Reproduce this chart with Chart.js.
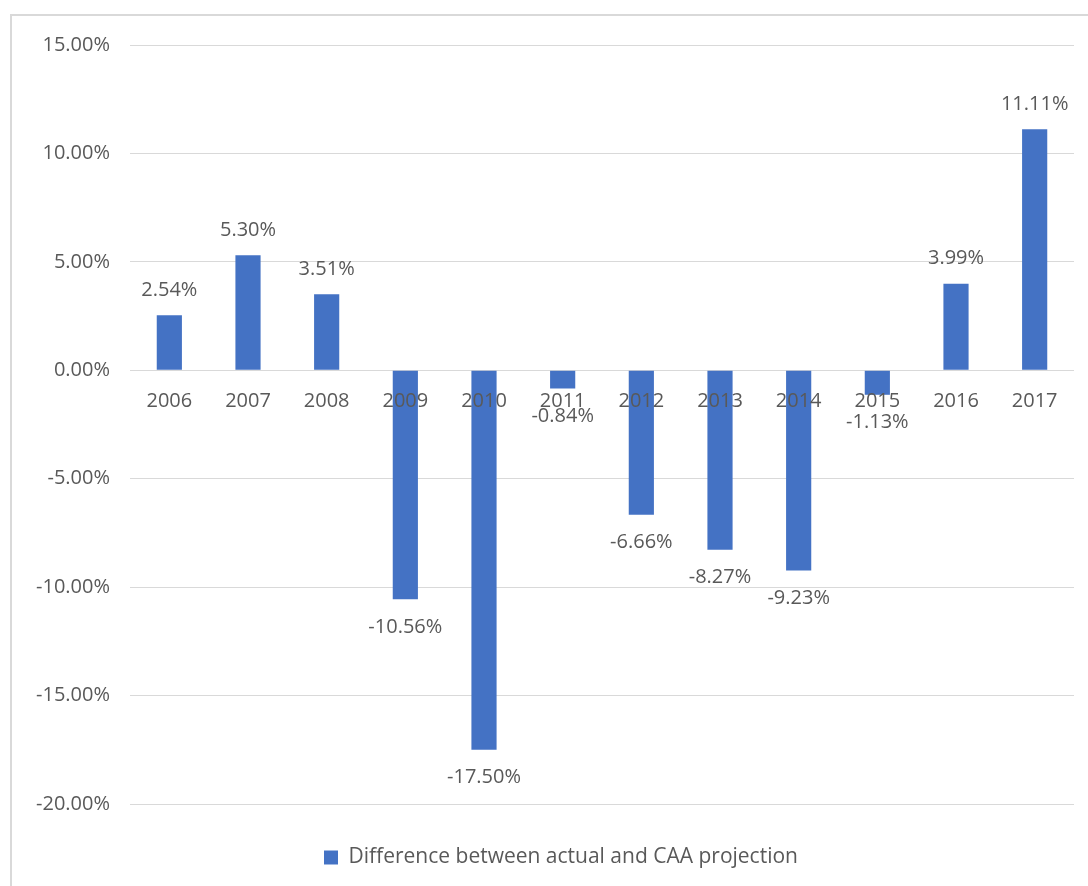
<!DOCTYPE html>
<html lang="en">
<head>
  <meta charset="UTF-8">
  <title>Difference between actual and CAA projection</title>
  <script src="https://cdn.jsdelivr.net/npm/chart.js"></script>
  <style>
    body { margin: 0; background: #fff; }
    .frame {
      position: absolute; left: 10px; top: 14px; width: 1090px; height: 880px;
      border-left: 2px solid #d9d9d9; border-top: 2px solid #d9d9d9;
    }
    .graph { position: absolute; left: 0; top: 0; width: 1088px; height: 886px; }
  </style>
</head>
<body>
  <div class="frame"></div>
  <div class="graph">
    <canvas id="barChart" width="1088" height="886"></canvas>
  </div>

<script>
  const anos = ["2006", "2007", "2008", "2009", "2010", "2011", "2012", "2013", "2014", "2015", "2016", "2017"];
  const diferenca = [2.54, 5.30, 3.51, -10.56, -17.50, -0.84, -6.66, -8.27, -9.23, -1.13, 3.99, 11.11];
  const serieNome = "Difference between actual and CAA projection";

  const fonte = "'Open Sans', sans-serif";
  const cinza = "#595959";

  // rotulos das barras + anos por cima das barras (como no Excel)
  const rotulos = {
    id: "rotulos",
    afterLayout(chart) {
      // legenda um pouco mais para a direita
      chart.legend.left += 24;
      chart.legend.right += 24;
    },
    afterDatasetsDraw(chart) {
      const ctx = chart.ctx;
      const meta = chart.getDatasetMeta(0);
      const zero = chart.scales.y.getPixelForValue(0);
      ctx.save();
      ctx.font = "20px " + fonte;
      ctx.fillStyle = cinza;
      ctx.textAlign = "center";
      ctx.textBaseline = "middle";
      meta.data.forEach(function (bar, i) {
        const v = diferenca[i];
        const y = v >= 0 ? bar.y - 25 : bar.y + 28;
        ctx.fillText(v.toFixed(2) + "%", bar.x, y);
        ctx.fillText(anos[i], chart.scales.x.getPixelForValue(i), zero + 31);
      });
      ctx.restore();
    }
  };

  const config = {
    type: "bar",
    data: {
      labels: anos,
      datasets: [
        {
          label: serieNome,
          data: diferenca,
          backgroundColor: "#4472C4",
          borderWidth: 0,
          categoryPercentage: 1,
          barPercentage: 0.32
        }
      ]
    },
    options: {
      responsive: false,
      animation: false,
      layout: { padding: { top: 45, right: 14, left: 0, bottom: 8 } },
      plugins: {
        tooltip: { enabled: false },
        legend: {
          position: "bottom",
          title: { display: true, text: "", padding: { top: 0, bottom: 9 }, font: { size: 10 } },
          labels: {
            boxWidth: 14, boxHeight: 14, padding: 22,
            color: cinza,
            font: { family: fonte, size: 21 }
          }
        }
      },
      scales: {
        x: {
          position: { y: 0 },
          grid: { display: false },
          border: { display: false },
          ticks: { display: false }
        },
        y: {
          min: -20, max: 15,
          afterFit(scale) { scale.width = 130; },
          grid: { color: "#d9d9d9", lineWidth: 1, drawTicks: false },
          border: { display: false },
          ticks: {
            stepSize: 5, padding: 20, color: cinza,
            font: { family: fonte, size: 20 },
            callback: function (v) { return v.toFixed(2) + "%"; }
          }
        }
      }
    },
    plugins: [rotulos]
  };

  let myChart = new Chart(document.getElementById("barChart"), config);
</script>
</body>
</html>
